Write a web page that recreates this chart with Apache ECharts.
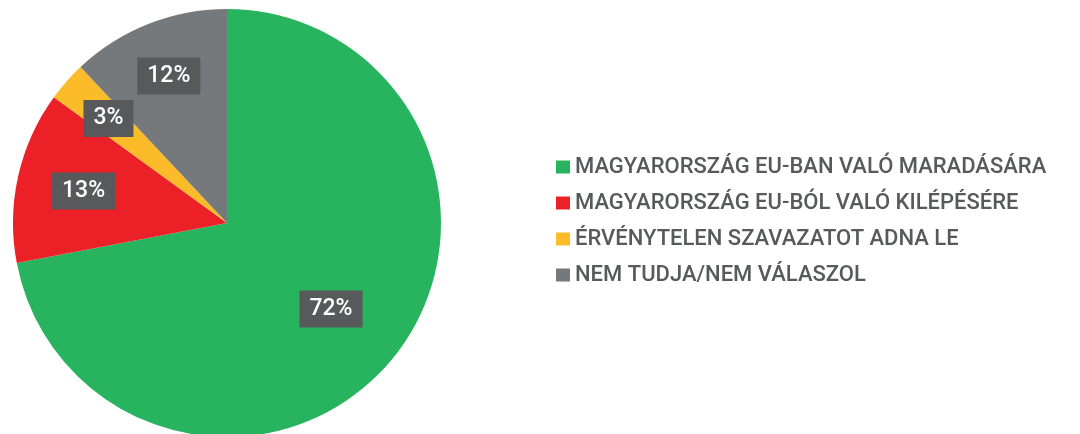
<!DOCTYPE html>
<html>
<head>
<meta charset="utf-8">
<script src="https://cdn.jsdelivr.net/npm/echarts@6/dist/echarts.min.js"></script>
<style>
html,body{margin:0;padding:0;background:#fff;}
#c{width:1080px;height:434px;}
</style>
</head>
<body>
<div id="c"></div>
<script>
var categories = ['MAGYARORSZÁG EU-BAN VALÓ MARADÁSÁRA', 'MAGYARORSZÁG EU-BÓL VALÓ KILÉPÉSÉRE', 'ÉRVÉNYTELEN SZAVAZATOT ADNA LE', 'NEM TUDJA/NEM VÁLASZOL'];
var values = [72, 13, 3, 12];
var colors = ['#28b45f', '#ec2027', '#fcbb29', '#76797c'];
// which label ring each category's label sits on (0: inner, 1: middle, 2: outer)
var labelRing = [0, 1, 2, 2];
var ringInnerRadius = [50, 74, 96];

var chart = echarts.init(document.getElementById('c'), null, {renderer: 'canvas'});
var CX = 227, CY = 223, R = 214;
var labelStyle = {
  position: 'inside',
  formatter: '{c}%',
  color: '#ffffff',
  fontFamily: 'Roboto',
  fontSize: 23,
  fontWeight: 500,
  backgroundColor: '#58595b',
  padding: [8, 10, 6, 10],
  lineHeight: 23
};
function overlay(ring) {
  return {
    type: 'pie',
    center: [CX, CY],
    radius: [ringInnerRadius[ring], R],
    startAngle: 90,
    clockwise: true,
    silent: true,
    animation: false,
    labelLine: {show: false},
    itemStyle: {color: 'rgba(0,0,0,0)'},
    emphasis: {disabled: true},
    data: categories.map(function (n, i) {
      return {name: n, value: values[i], label: Object.assign({show: labelRing[i] === ring}, labelStyle)};
    })
  };
}
chart.setOption({
  animation: false,
  color: colors,
  legend: {
    orient: 'vertical',
    left: 551,
    top: 151,
    itemWidth: 14,
    itemHeight: 13,
    itemGap: 14,
    icon: 'rect',
    data: categories,
    textStyle: {
      color: '#58595b',
      fontFamily: 'Roboto',
      fontSize: 22,
      fontWeight: 500,
      lineHeight: 22
    }
  },
  series: [
    {
      type: 'pie',
      center: [CX, CY],
      radius: R,
      startAngle: 90,
      clockwise: true,
      animation: false,
      label: {show: false},
      labelLine: {show: false},
      data: categories.map(function (n, i) {
        return {name: n, value: values[i], itemStyle: {color: colors[i]}};
      })
    },
    overlay(0),
    overlay(1),
    overlay(2)
  ]
});
</script>
</body>
</html>
